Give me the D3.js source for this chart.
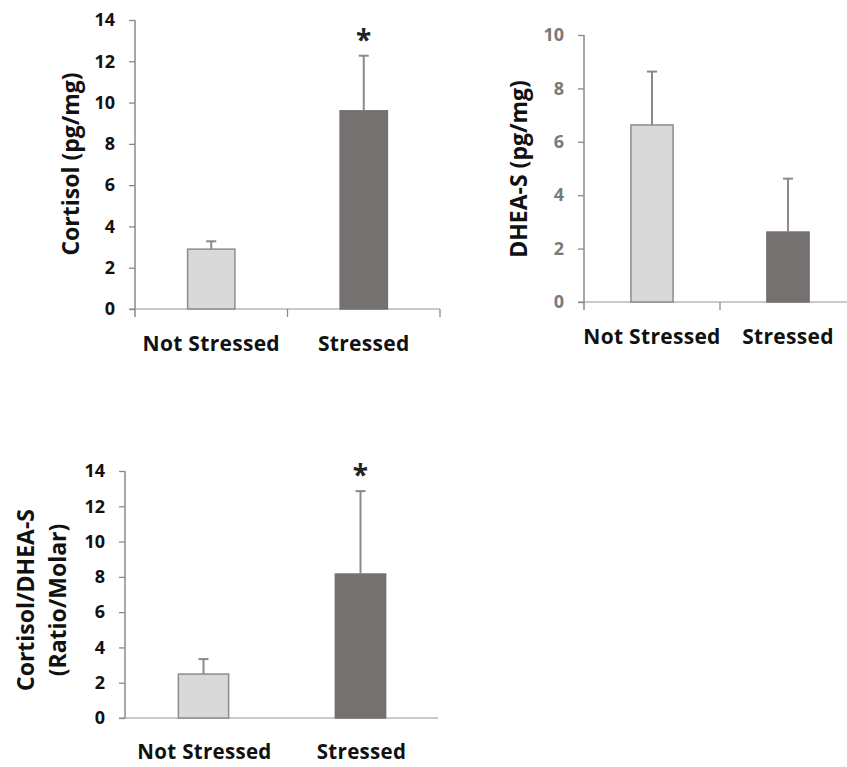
<!DOCTYPE html>
<html>
<head>
  <meta charset="UTF-8">
  <script src="https://cdn.jsdelivr.net/npm/d3@7"></script>
  <style>
      * { box-sizing: border-box; }
      body { margin: 0; background: #fff; }
      svg text { font-family: "Open Sans", sans-serif; font-weight: bold; }
  </style>
</head>
<body>
<div id="root"></div>
<script>

  // categories and values
  var categories = ["Not Stressed", "Stressed"];

  var cortisolMean = [2.9, 9.6];
  var cortisolErr = [0.38, 2.67];
  var cortisolTicks = [0, 2, 4, 6, 8, 10, 12, 14];

  var dheaMean = [6.63, 2.62];
  var dheaErr = [2.0, 2.0];
  var dheaTicks = [0, 2, 4, 6, 8, 10];

  var ratioMean = [2.49, 8.16];
  var ratioErr = [0.85, 4.7];
  var ratioTicks = [0, 2, 4, 6, 8, 10, 12, 14];

  var cortisolStar = [false, true];
  var dheaStar = [false, false];
  var ratioStar = [false, true];

  var lightFill = "#d9d9d9", darkFill = "#767171";

  var svg = d3.select("#root").append("svg")
    .attr("width", 847)
    .attr("height", 767);

  function drawPanel(p) {
    var g = svg.append("g");

    var x = d3.scaleBand().domain(categories).range([p.x0, p.x1]);
    var y = d3.scaleLinear().domain([0, p.ticks[p.ticks.length - 1]]).range([p.yBottom, p.yTop]);
    var bw = x.bandwidth() * p.barFrac;

    // x axis line
    g.append("line")
      .attr("x1", p.x0 - 6).attr("x2", p.xAxisEnd)
      .attr("y1", y(0)).attr("y2", y(0))
      .attr("stroke", "#b8b8b8").attr("stroke-width", 1.5);

    // ticks below the x axis (between categories)
    if (p.catTicks) {
      var tks = [x.range()[0] + x.step(), x.range()[0] + 2 * x.step()];
      g.selectAll(".ctick").data(tks).enter().append("line")
        .attr("x1", d => d).attr("x2", d => d)
        .attr("y1", y(0)).attr("y2", y(0) + 8)
        .attr("stroke", "#8c8c8c").attr("stroke-width", 1.3);
    }

    // y axis
    var ax = g.append("g")
      .attr("transform", "translate(" + p.x0 + ",0)")
      .call(d3.axisLeft(y).tickValues(p.ticks).tickSize(6).tickPadding(p.pad).tickSizeOuter(0));
    ax.select(".domain").remove();
    ax.append("line")
      .attr("x1", 0).attr("x2", 0)
      .attr("y1", y(p.ticks[p.ticks.length - 1])).attr("y2", y(0) + (p.catTicks ? 8 : 0))
      .attr("stroke", "#8a8a8a").attr("stroke-width", 1.5);
    ax.selectAll(".tick line").attr("stroke", "#8a8a8a").attr("stroke-width", 1.3);
    ax.selectAll(".tick text")
      .attr("fill", p.tickColor)
      .style("font-size", "18px");

    // bars
    g.selectAll(".bar").data(p.mean).enter().append("rect")
      .attr("x", (d, i) => x(categories[i]) + (x.bandwidth() - bw) / 2)
      .attr("width", bw)
      .attr("y", d => y(d))
      .attr("height", d => y(0) - y(d))
      .attr("fill", (d, i) => i === 0 ? lightFill : darkFill)
      .attr("stroke", (d, i) => i === 0 ? "#8c8c8c" : "#767171")
      .attr("stroke-width", 1.5);

    // error bars (upper only)
    var cx = i => x(categories[i]) + x.bandwidth() / 2;
    g.selectAll(".err").data(p.mean).enter().append("line")
      .attr("x1", (d, i) => cx(i)).attr("x2", (d, i) => cx(i))
      .attr("y1", d => y(d)).attr("y2", (d, i) => y(d + p.err[i]))
      .attr("stroke", "#8a8a8a").attr("stroke-width", 2);
    g.selectAll(".cap").data(p.mean).enter().append("line")
      .attr("x1", (d, i) => cx(i) - 5).attr("x2", (d, i) => cx(i) + 5)
      .attr("y1", (d, i) => y(d + p.err[i])).attr("y2", (d, i) => y(d + p.err[i]))
      .attr("stroke", "#8a8a8a").attr("stroke-width", 2);

    // significance marks
    g.selectAll(".star").data(p.star).enter().filter(d => d).append("text")
      .attr("x", (d, i) => cx(p.star.indexOf(true)))
      .attr("y", p.starY)
      .attr("text-anchor", "middle")
      .style("font-size", "28px")
      .attr("fill", "#222")
      .text("*");

    // category labels
    g.selectAll(".cat").data(categories).enter().append("text")
      .attr("x", d => x(d) + x.bandwidth() / 2 + p.labelShift[categories.indexOf(d)])
      .attr("y", p.labelY)
      .attr("text-anchor", "middle")
      .style("font-size", p.labelSize)
      .style("letter-spacing", "0.3px")
      .attr("fill", "#111")
      .text(d => d);

    // y title
    p.title.forEach(function(t, k) {
      g.append("text")
        .attr("transform", "translate(" + p.titleX[k] + "," + p.titleY + ") rotate(-90)")
        .attr("text-anchor", "middle")
        .style("font-size", "23px")
        .attr("fill", "#111")
        .text(t);
    });
  }

  drawPanel({
    x0: 135, x1: 440, xAxisEnd: 440, yBottom: 309, yTop: 20,
    ticks: cortisolTicks, mean: cortisolMean, err: cortisolErr, star: cortisolStar,
    barFrac: 0.31, catTicks: true, pad: 14, tickColor: "#111", starY: 50,
    labelY: 351, labelShift: [0, 0], labelSize: "21px",
    title: ["Cortisol (pg/mg)"], titleX: [79], titleY: 164
  });

  drawPanel({
    x0: 584, x1: 856, xAxisEnd: 856, yBottom: 302, yTop: 35,
    ticks: dheaTicks, mean: dheaMean, err: dheaErr, star: dheaStar,
    barFrac: 0.31, catTicks: true, pad: 14, tickColor: "#7a7a7a", starY: 0,
    labelY: 344, labelShift: [0, 0], labelSize: "21px",
    title: ["DHEA-S (pg/mg)"], titleX: [527], titleY: 169
  });

  drawPanel({
    x0: 125, x1: 439, xAxisEnd: 438, yBottom: 718, yTop: 471,
    ticks: ratioTicks, mean: ratioMean, err: ratioErr, star: ratioStar,
    barFrac: 0.32, catTicks: false, pad: 14, tickColor: "#111", starY: 485,
    labelY: 759, labelShift: [1, 1], labelSize: "20.5px",
    title: ["Cortisol/DHEA-S", "(Ratio/Molar)"], titleX: [34, 66], titleY: 600
  });

</script>
</body>
</html>
